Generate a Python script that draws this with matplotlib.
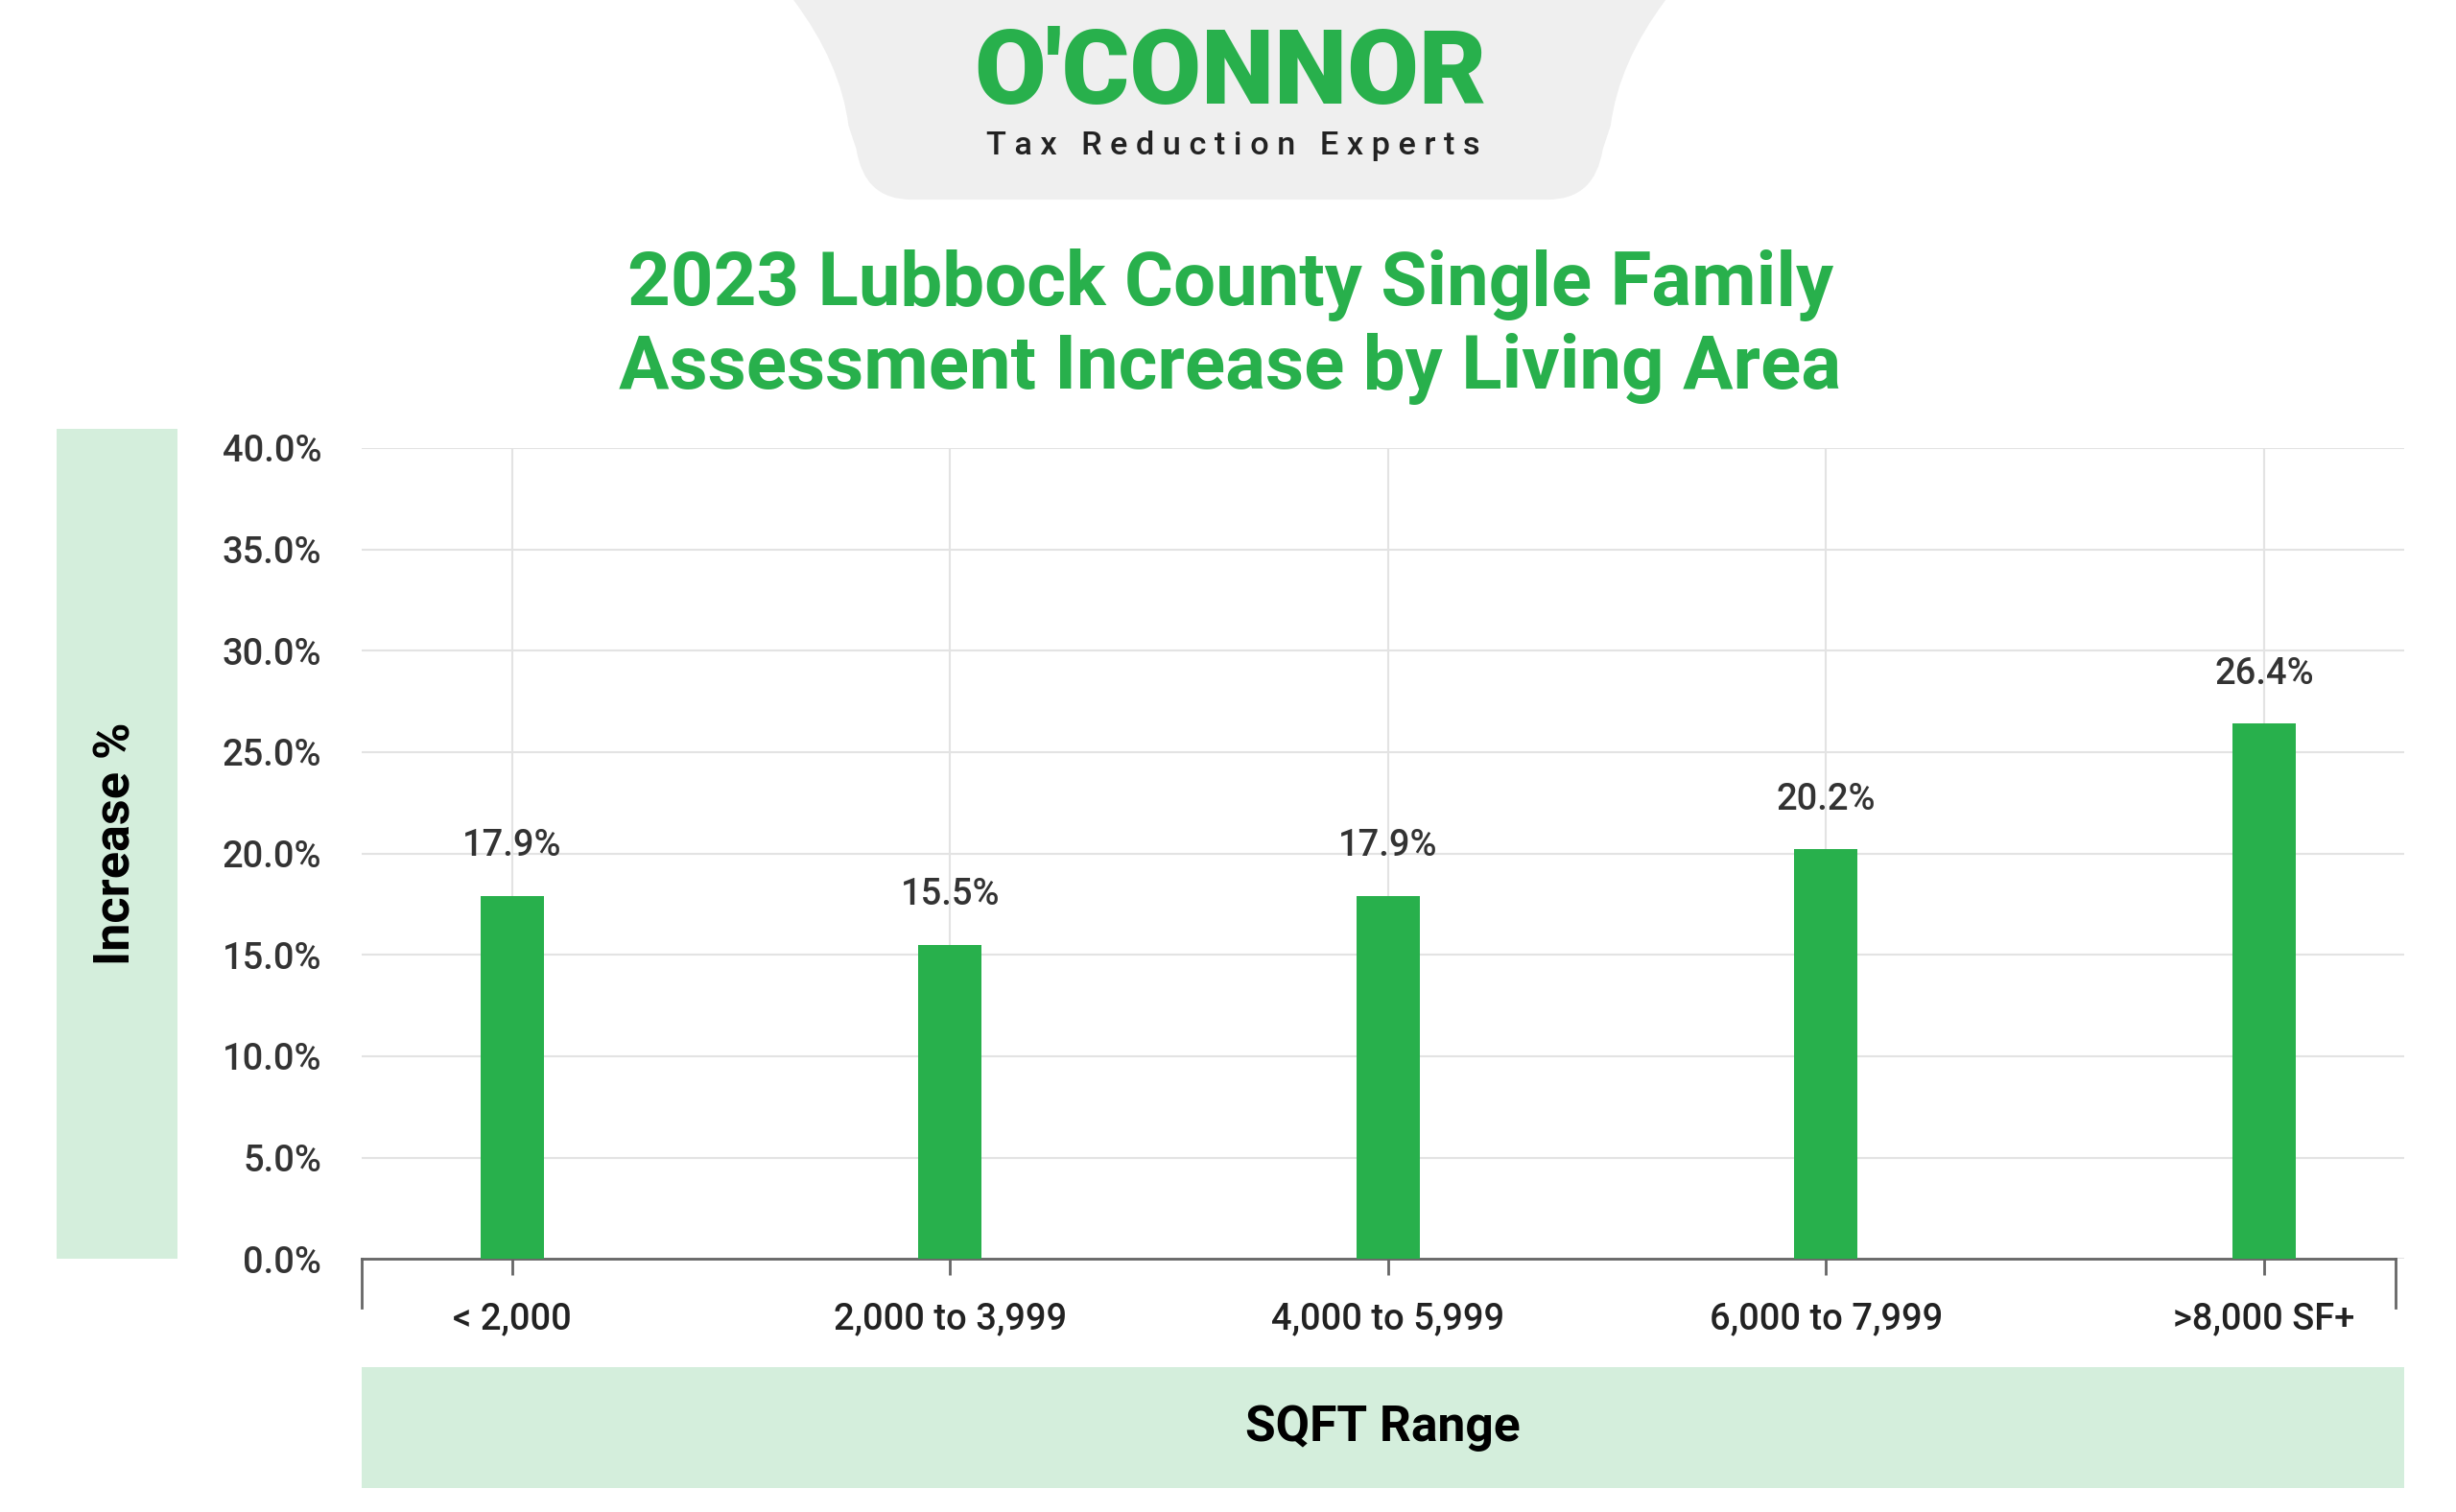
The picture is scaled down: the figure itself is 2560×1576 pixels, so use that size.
import matplotlib
matplotlib.use("Agg")
import matplotlib.pyplot as plt
from matplotlib.patches import Rectangle, PathPatch
from matplotlib.path import Path
import numpy as np

categories = ["< 2,000", "2,000 to 3,999", "4,000 to 5,999", "6,000 to 7,999", ">8,000 SF+"]
values = [17.9, 15.5, 17.9, 20.2, 26.4]
yticks = [0, 5, 10, 15, 20, 25, 30, 35, 40]

GREEN = "#28B04C"
LIGHT = "#D4EEDC"
W, H = 1563, 962
fig = plt.figure(figsize=(25.6, 15.76), dpi=100)
fs = lambda px: px * 1.638 * 72 / 100

def fx(x): return x / W
def fy(y): return 1 - y / H

bg = fig.add_axes([0, 0, 1, 1]); bg.set_xlim(0, W); bg.set_ylim(H, 0); bg.axis("off")
verts = [(505, 0), (1060, 0), (1030, 40), (1025, 80), (1020, 95),
         (1015, 127), (985, 127), (580, 127),
         (550, 127), (545, 95), (540, 80), (535, 40), (505, 0), (505, 0)]
codes = [Path.MOVETO, Path.LINETO, Path.CURVE3, Path.CURVE3, Path.LINETO,
         Path.CURVE3, Path.CURVE3, Path.LINETO,
         Path.CURVE3, Path.CURVE3, Path.LINETO, Path.CURVE3, Path.CURVE3, Path.CLOSEPOLY]
bg.add_patch(PathPatch(Path(verts, codes), color="#EFEFEF", lw=0))
bg.text(783, 48, "O'CONNOR", color=GREEN, fontsize=fs(66), fontweight="black",
        ha="center", va="center", family="Roboto")
bg.text(785, 93, "T a x   R e d u c t i o n   E x p e r t s", color="#222222", fontsize=fs(21),
        ha="center", va="center", family="Roboto", fontweight="medium")
bg.text(783, 208, "2023 Lubbock County Single Family\nAssessment Increase by Living Area",
        color=GREEN, fontsize=fs(35 * 1.36), fontweight="bold", ha="center", va="center",
        family="Roboto", linespacing=1.2)
bg.add_patch(Rectangle((36, 273), 77, 528, color=LIGHT, lw=0))
bg.text(74, 537, "Increase %", rotation=90, fontsize=fs(22 * 1.45), fontweight="bold",
        ha="center", va="center", family="Roboto")
bg.add_patch(Rectangle((230, 870), 1300, 77, color=LIGHT, lw=0))
bg.text(880, 908, "SQFT Range", fontsize=fs(22 * 1.43), fontweight="bold",
        ha="center", va="center", family="Roboto")

ax = fig.add_axes([fx(230), fy(801), fx(1300), 516 / H])
x = np.arange(len(categories))
ax.bar(x, values, width=0.145, color=GREEN, zorder=3)
tfs = fs(15.5 * 1.5)
for xi, v in zip(x, values):
    ax.text(xi, v + 1.6, f"{v:.1f}%", ha="center", va="bottom", fontsize=tfs,
            color="#333333", family="Roboto", fontweight="medium")
ax.set_xlim(-0.344, 4.32)
ax.set_ylim(0, 40)
ax.set_yticks(yticks)
ax.set_yticklabels([f"{t:.1f}%" for t in yticks], fontsize=tfs, color="#333333",
                   family="Roboto", fontweight="medium")
ax.set_xticks(x)
ax.set_xticklabels(categories, fontsize=tfs, color="#222222", family="Roboto", fontweight="medium")
ax.tick_params(axis="y", length=0, pad=30)
ax.tick_params(axis="x", length=12, color="#666666", width=2, pad=20)
ax.grid(True, color="#E3E3E3", lw=1.5, zorder=0)
for s in ["top", "right", "left"]:
    ax.spines[s].set_visible(False)
ax.spines["bottom"].set_color("#666666"); ax.spines["bottom"].set_linewidth(2)
ax.spines["bottom"].set_bounds(-0.344, 4.30)
for xe in (-0.344, 4.30):
    ax.plot([xe, xe], [0, -0.06], transform=ax.get_xaxis_transform(), color="#666666",
            lw=2, clip_on=False)
fig.savefig("out.png", dpi=100)
